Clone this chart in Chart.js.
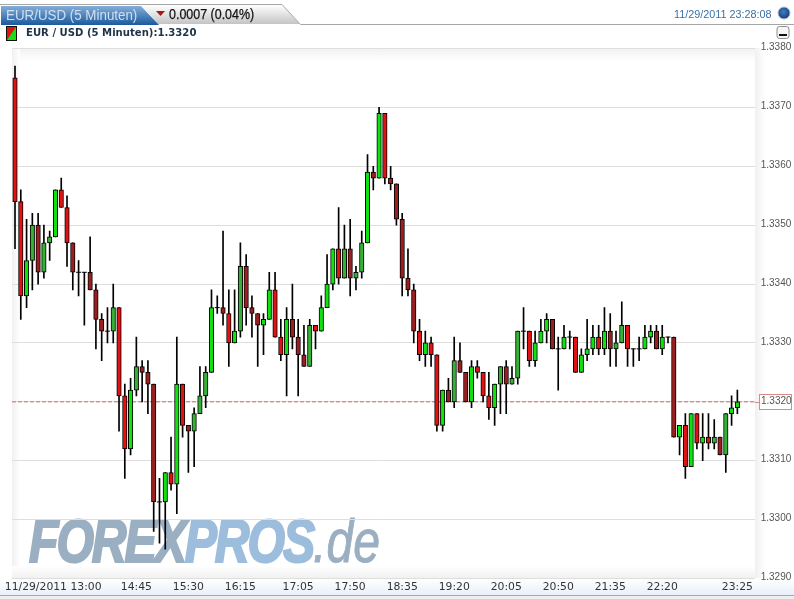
<!DOCTYPE html>
<html>
<head>
<meta charset="utf-8">
<title>EUR/USD (5 Minuten)</title>
<script src="https://cdn.jsdelivr.net/npm/chart.js@4"></script>
<style>
html, body { margin: 0; padding: 0; background: #fff; }
#page { position: relative; width: 794px; height: 599px; overflow: hidden; font-family: "Liberation Sans", sans-serif; }
#page > * { position: absolute; }
svg { left: 0; top: 0; }
canvas { left: 0; top: 0; }
.txt { white-space: nowrap; line-height: 1; }
#tabname { left: 6px; top: 7px; font-size: 15px; color: #cfe0f1; transform-origin: 0 0; transform: scaleX(0.89); }
#delta { left: 169px; top: 7px; font-size: 14px; color: #111; -webkit-text-stroke: 0.25px #111; transform-origin: 0 0; transform: scaleX(0.89); }
#stamp { left: 674px; top: 9px; font-size: 10.8px; color: #3a70a8; }
#sub { left: 26px; top: 28px; font-family: "DejaVu Sans", sans-serif; font-size: 10.1px; font-weight: bold; color: #1d3347; }
#mark { left: 29px; top: 511px; font-size: 61px; font-weight: bold; font-style: italic; transform-origin: 0 0; transform: scaleX(0.79); letter-spacing: -2.6px; -webkit-text-stroke: 2.2px; }
#mark .a { color: #9bafc2; }
#mark .b { color: #9dbddd; }
#mark .c { color: #9bafc2; -webkit-text-stroke: 1px; font-weight: normal; letter-spacing: 0; }
</style>
</head>
<body>
<div id="page">
  <svg width="794" height="599">
    <defs>
      <linearGradient id="blue" x1="0" y1="0" x2="0" y2="1"><stop offset="0" stop-color="#86aed8"/><stop offset="1" stop-color="#1a5a9e"/></linearGradient>
      <linearGradient id="gray" x1="0" y1="0" x2="0" y2="1"><stop offset="0" stop-color="#ffffff"/><stop offset="1" stop-color="#c4c4c4"/></linearGradient>
      <linearGradient id="left" x1="0" y1="0" x2="1" y2="0"><stop offset="0" stop-color="#f0f0f0"/><stop offset="1" stop-color="#ffffff"/></linearGradient>
      <linearGradient id="top" x1="0" y1="0" x2="0" y2="1"><stop offset="0" stop-color="#f1f1f1"/><stop offset="1" stop-color="#ffffff"/></linearGradient>
      <linearGradient id="bot" x1="0" y1="0" x2="0" y2="1"><stop offset="0" stop-color="#ffffff"/><stop offset="1" stop-color="#f1f1f1"/></linearGradient>
      <linearGradient id="strip" x1="0" y1="0" x2="0" y2="1"><stop offset="0" stop-color="#ffffff"/><stop offset="1" stop-color="#e9f0fa"/></linearGradient>
      <radialGradient id="ball" cx="0.45" cy="0.4" r="0.6"><stop offset="0" stop-color="#3f7fc4"/><stop offset="1" stop-color="#123f78"/></radialGradient>
    </defs>
    <rect x="12" y="48" width="743" height="14" fill="url(#top)"/>
    <rect x="12" y="48" width="8" height="530" fill="url(#left)"/>
    <rect x="12" y="566" width="743" height="12" fill="url(#bot)"/>
    <rect x="755" y="48" width="10" height="530" fill="url(#left)"/>
    <rect x="0" y="578" width="794" height="17" fill="url(#strip)"/>
    <rect x="0" y="596" width="794" height="3" fill="#eeeeee"/>
    <rect x="0" y="595" width="794" height="1" fill="#a8a8a8"/>
    <path d="M142 5 L282 5 L300 24 L158 24 Z" fill="url(#gray)"/>
    <path d="M0 4.5 L282 4.5 L300.5 24.5 L794 24.5" fill="none" stroke="#a6a6a6"/>
    <path d="M1 6 L141 6 L159 25 L1 25 Z" fill="url(#blue)"/>
    <path d="M156 11 L165 11 L160.5 16 Z" fill="#b01414"/>
    <circle cx="784" cy="13" r="6" fill="url(#ball)" stroke="#b5bcc6"/>
    <rect x="6.5" y="26.5" width="10" height="14" fill="#18e018" stroke="#111"/>
    <path d="M7 27 L16 27 L7 40 Z" fill="#e01414"/>
    <rect x="777" y="26.5" width="12" height="12" rx="2.5" fill="#f6f6f6" stroke="#8e8e8e"/>
    <rect x="779" y="34" width="8" height="2" fill="#111"/>
  </svg>
  <div class="txt" id="mark"><span class="a">FOREX</span><span class="b">PROS</span><span class="c">.de</span></div>
  <canvas id="forexChart" width="794" height="599"></canvas>
  <div class="txt" id="tabname">EUR/USD (5 Minuten)</div>
  <div class="txt" id="delta">0.0007 (0.04%)</div>
  <div class="txt" id="stamp">11/29/2011 23:28:08</div>
  <div class="txt" id="sub">EUR / USD (5 Minuten):1.3320</div>
</div>
<script>
// 5 minute candles, 13:00 to 23:25
const opens = [
  1.3375,1.3354,1.3338,1.3344,1.3350,1.3342,1.3347,1.3348,1.3356,1.3353,
  1.3347,1.3342,1.3342,1.3342,1.3339,1.3334,1.3332,1.3332,1.3336,1.3321,
  1.3312,1.3322,1.3326,1.3325,1.3323,1.3303,1.3303,1.3308,1.3306,1.3323,
  1.3316,1.3315,1.3318,1.3321,1.3325,1.3336,1.3336,1.3335,1.3330,1.3332,
  1.3343,1.3336,1.3335,1.3333,1.3334,1.3339,1.3331,1.3328,1.3334,1.3331,
  1.3328,1.3326,1.3333,1.3332,1.3336,1.3340,1.3346,1.3341,1.3346,1.3341,
  1.3342,1.3347,1.3359,1.3358,1.3369,1.3358,1.3357,1.3351,1.3341,1.3339,
  1.3332,1.3328,1.3330,1.3328,1.3316,1.3322,1.3320,1.3327,1.3325,1.3320,
  1.3326,1.3325,1.3321,1.3319,1.3323,1.3326,1.3323,1.3324,1.3332,1.3332,
  1.3327,1.3330,1.3332,1.3334,1.3329,1.3329,1.3331,1.3331,1.3325,1.3328,
  1.3329,1.3331,1.3329,1.3332,1.3329,1.3330,1.3333,1.3329,1.3329,1.3329,
  1.3331,1.3332,1.3329,1.3331,1.3331,1.3314,1.3316,1.3309,1.3318,1.3313,
  1.3314,1.3313,1.3314,1.3311,1.3318,1.3319
];
const closes = [
  1.3354,1.3338,1.3344,1.3350,1.3342,1.3347,1.3348,1.3356,1.3353,1.3347,
  1.3342,1.3342,1.3342,1.3339,1.3334,1.3332,1.3332,1.3336,1.3321,1.3312,
  1.3322,1.3326,1.3325,1.3323,1.3303,1.3303,1.3308,1.3306,1.3323,1.3316,
  1.3315,1.3318,1.3321,1.3325,1.3336,1.3336,1.3335,1.3330,1.3332,1.3343,
  1.3336,1.3335,1.3333,1.3334,1.3339,1.3331,1.3328,1.3334,1.3331,1.3328,
  1.3326,1.3333,1.3332,1.3336,1.3340,1.3346,1.3341,1.3346,1.3341,1.3342,
  1.3347,1.3359,1.3358,1.3369,1.3358,1.3357,1.3351,1.3341,1.3339,1.3332,
  1.3328,1.3330,1.3328,1.3316,1.3322,1.3320,1.3327,1.3325,1.3320,1.3326,
  1.3325,1.3321,1.3319,1.3323,1.3326,1.3323,1.3324,1.3332,1.3332,1.3327,
  1.3330,1.3332,1.3334,1.3329,1.3329,1.3331,1.3331,1.3325,1.3328,1.3329,
  1.3331,1.3329,1.3332,1.3329,1.3330,1.3333,1.3329,1.3329,1.3329,1.3331,
  1.3332,1.3329,1.3331,1.3331,1.3314,1.3316,1.3309,1.3318,1.3313,1.3314,
  1.3313,1.3314,1.3311,1.3318,1.3319,1.3320
];
const highs = [
  1.3377,1.3356,1.3351,1.3352,1.3352,1.3350,1.3349,1.3356,1.3358,1.3355,
  1.3347,1.3344,1.3342,1.3348,1.3340,1.3335,1.3336,1.3340,1.3336,1.3323,
  1.3324,1.3331,1.3327,1.3327,1.3323,1.3307,1.3308,1.3314,1.3331,1.3323,
  1.3316,1.3319,1.3326,1.3326,1.3339,1.3338,1.3349,1.3339,1.3339,1.3347,
  1.3345,1.3338,1.3335,1.3335,1.3342,1.3342,1.3334,1.3336,1.3340,1.3334,
  1.3333,1.3334,1.3333,1.3338,1.3345,1.3346,1.3353,1.3350,1.3351,1.3343,
  1.3349,1.3362,1.3360,1.3370,1.3369,1.3360,1.3357,1.3352,1.3346,1.3340,
  1.3334,1.3332,1.3331,1.3328,1.3322,1.3324,1.3331,1.3330,1.3325,1.3327,
  1.3327,1.3325,1.3325,1.3323,1.3326,1.3327,1.3326,1.3332,1.3336,1.3332,
  1.3332,1.3334,1.3335,1.3334,1.3331,1.3333,1.3332,1.3331,1.3329,1.3334,
  1.3333,1.3333,1.3336,1.3335,1.3332,1.3337,1.3333,1.3329,1.3331,1.3333,
  1.3333,1.3333,1.3333,1.3331,1.3331,1.3316,1.3318,1.3318,1.3318,1.3318,
  1.3318,1.3317,1.3314,1.3318,1.3321,1.3322
];
const lows = [
  1.3346,1.3334,1.3336,1.3339,1.3340,1.3341,1.3344,1.3348,1.3353,1.3343,
  1.3339,1.3338,1.3333,1.3339,1.3329,1.3327,1.3330,1.3330,1.3315,1.3307,
  1.3311,1.3321,1.3320,1.3318,1.3298,1.3296,1.3295,1.3305,1.3301,1.3314,
  1.3308,1.3309,1.3318,1.3319,1.3325,1.3335,1.3333,1.3326,1.3330,1.3331,
  1.3333,1.3331,1.3326,1.3328,1.3334,1.3331,1.3327,1.3321,1.3329,1.3321,
  1.3326,1.3326,1.3329,1.3332,1.3336,1.3339,1.3340,1.3341,1.3338,1.3339,
  1.3341,1.3347,1.3356,1.3358,1.3357,1.3356,1.3350,1.3338,1.3338,1.3330,
  1.3327,1.3326,1.3326,1.3315,1.3315,1.3320,1.3319,1.3325,1.3320,1.3319,
  1.3324,1.3320,1.3317,1.3316,1.3318,1.3318,1.3323,1.3323,1.3329,1.3326,
  1.3326,1.3330,1.3330,1.3329,1.3322,1.3329,1.3329,1.3325,1.3325,1.3327,
  1.3328,1.3328,1.3328,1.3326,1.3326,1.3330,1.3326,1.3326,1.3327,1.3329,
  1.3330,1.3329,1.3328,1.3330,1.3314,1.3311,1.3307,1.3309,1.3312,1.3310,
  1.3312,1.3312,1.3311,1.3308,1.3316,1.3318
];
const priceTicks = [1.3380,1.3370,1.3360,1.3350,1.3340,1.3330,1.3320,1.3310,1.3300,1.3290];
const timeLabels = ['11/29/2011 13:00','14:45','15:30','16:15','17:05','17:50','18:35','19:20','20:05','20:50','21:35','22:20','23:25'];
const timeSlots = [0,21,30,39,49,58,67,76,85,94,103,112,125];
const lastPrice = 1.3320;

// candles the original paints in the darker shade
const darkCandles = [3,4,5,6,10,13,14,15,17,21,22,23,24,30,31,32,33,36,39,40,41,42,48,49,50,51,57,58,59,60,62,65,66,67,68,69,75,76,77,78,84,85,86,87,93,103,104,105,111,114,121,122,123];

const slots = opens.map((o, i) => i);
const xMin = -0.52, xMax = 128.0;

function candleColor(i) {
    const dark = darkCandles.includes(i);
    if (closes[i] >= opens[i]) return dark ? '#35b135' : '#0fe20f';
    return dark ? '#9c1f1f' : '#e01212';
}

// last price box on the axis
const priceBox = {
    id: 'priceBox',
    afterDraw(c) {
        const y = Math.round(c.scales.y.getPixelForValue(lastPrice)) + 0.5;
        const g = c.ctx;
        g.save();
        g.strokeStyle = '#d98a8a';
        g.beginPath();
        g.moveTo(c.chartArea.right, y);
        g.lineTo(759, y);
        g.stroke();
        g.fillStyle = '#fff';
        g.fillRect(759.5, y - 8, 32, 15);
        g.strokeRect(759.5, y - 8, 32, 15);
        g.fillStyle = '#555';
        g.font = '10px "Liberation Sans"';
        g.textBaseline = 'middle';
        g.fillText(lastPrice.toFixed(4), 761, y - 1);
        g.restore();
    }
};

const chart = new Chart(document.getElementById('forexChart'), {
    data: {
        datasets: [
            {
                type: 'line',
                label: 'Last',
                data: [{ x: xMin, y: lastPrice }, { x: xMax, y: lastPrice }],
                borderColor: '#cf6a6a',
                borderWidth: 1,
                borderDash: [4, 2],
                pointRadius: 0,
                order: 3
            },
            {
                type: 'bar',
                label: 'Wick',
                data: slots.map(i => ({ x: i, y: [lows[i], highs[i]] })),
                backgroundColor: '#000',
                borderWidth: 0,
                barThickness: 1,
                grouped: false,
                order: 2
            },
            {
                type: 'bar',
                label: 'Body',
                data: slots.filter(i => opens[i] !== closes[i]).map(i => ({ x: i, y: [opens[i], closes[i]] })),
                backgroundColor: ctx => candleColor(ctx.raw ? ctx.raw.x : 0),
                borderColor: '#000',
                borderWidth: 1,
                borderSkipped: false,
                barThickness: 4.5,
                grouped: false,
                order: 1
            },
            {
                type: 'line',
                label: 'Doji',
                data: slots.filter(i => opens[i] === closes[i]).map(i => ({ x: i, y: opens[i] })),
                showLine: false,
                pointStyle: 'line',
                pointRadius: 2.5,
                pointBorderColor: '#000',
                pointBorderWidth: 1,
                order: 0
            }
        ]
    },
    plugins: [priceBox],
    options: {
        responsive: false,
        animation: false,
        events: [],
        layout: { padding: { left: 12, top: 48.5, right: 0, bottom: 0 } },
        plugins: { legend: { display: false }, tooltip: { enabled: false } },
        scales: {
            x: {
                type: 'linear',
                min: xMin,
                max: xMax,
                offset: false,
                grid: { display: false, drawTicks: false, tickLength: 0 },
                border: { display: false },
                afterBuildTicks: s => {
                    // first label sits right of its slot so the date stays on screen
                    s.ticks = timeSlots.map((v, i) => ({ value: i === 0 ? 6.6 : v }));
                },
                afterFit: s => { s.height = 20.5; },
                ticks: {
                    autoSkip: false,
                    maxRotation: 0,
                    padding: 2,
                    color: '#333',
                    font: { family: '"DejaVu Sans"', size: 10.8 },
                    callback: (v, i) => timeLabels[i]
                }
            },
            y: {
                position: 'right',
                min: 1.3290,
                max: 1.3380,
                grid: { color: '#dedede', drawTicks: false },
                border: { display: false },
                afterBuildTicks: s => { s.ticks = priceTicks.map(v => ({ value: v })); },
                afterFit: s => { s.width = 39.3; },
                ticks: {
                    padding: 6,
                    labelOffset: -1,
                    color: '#555',
                    font: { family: '"Liberation Sans"', size: 10 },
                    callback: v => v.toFixed(4)
                }
            }
        }
    }
});
</script>
</body>
</html>
